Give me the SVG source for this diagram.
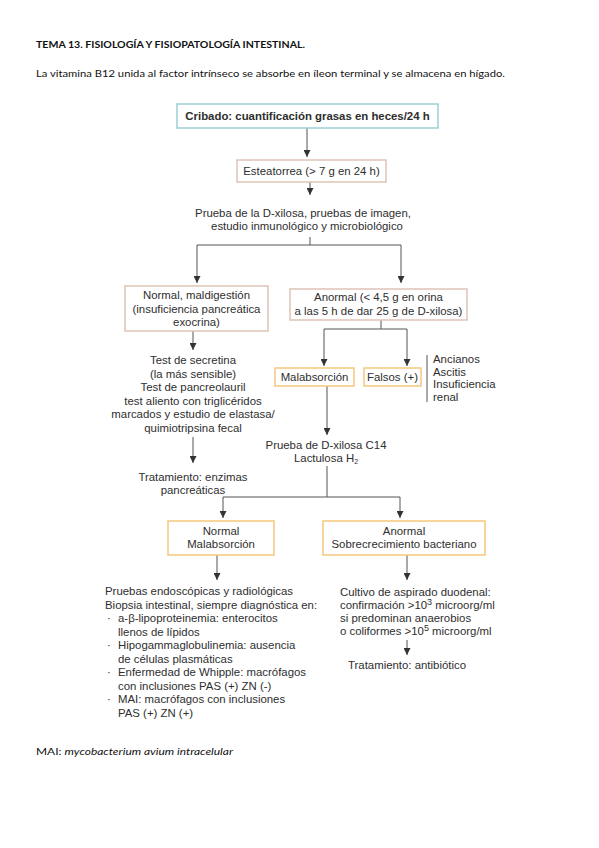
<svg xmlns="http://www.w3.org/2000/svg" width="599" height="848" viewBox="0 0 599 848">
<defs>
<marker id="ah" viewBox="0 0 10 10" refX="10" refY="5" markerWidth="7" markerHeight="7" markerUnits="userSpaceOnUse" orient="auto">
<path d="M0,0 L10,5 L0,10 z" fill="#333"/>
</marker>
</defs>
<style>
text{font-family:"Liberation Sans",Arial,sans-serif;fill:#2e2e2e;font-size:11.4px}
.c{text-anchor:middle}
.hd{font-family:Lato,"Liberation Sans",sans-serif;fill:#111;font-size:10px}
.b{font-weight:bold}
.teal{fill:#fff;stroke:#9ccfd6;stroke-width:1.5}
.pink{fill:#fff;stroke:#dfc3b8;stroke-width:1.5}
.org{fill:#fff;stroke:#f6c77c;stroke-width:1.5}
.ln{fill:none;stroke:#555;stroke-width:1}
.ar{fill:none;stroke:#555;stroke-width:1;marker-end:url(#ah)}
</style>
<rect width="599" height="848" fill="#fff"/>

<text class="hd b" x="36" y="48" textLength="269" lengthAdjust="spacingAndGlyphs">TEMA 13. FISIOLOGÍA Y FISIOPATOLOGÍA INTESTINAL.</text>
<text class="hd" x="36" y="77" textLength="469" lengthAdjust="spacingAndGlyphs">La vitamina B12 unida al factor intrínseco se absorbe en íleon terminal y se almacena en hígado.</text>

<g id="connectors">
<path class="ar" d="M307,128 V157"/>
<path class="ar" d="M310,182 V195"/>
<path class="ln" d="M310,237 V245 M197,245 H401"/>
<path class="ar" d="M197,245 V283"/>
<path class="ar" d="M401,245 V283"/>
<path class="ar" d="M193,331 V350"/>
<path class="ar" d="M193,437 V463"/>
<path class="ln" d="M381,320 V329 M324,329 H407"/>
<path class="ar" d="M324,329 V366"/>
<path class="ar" d="M407,329 V366"/>
<path class="ln" d="M427,355 V402" stroke="#888"/>
<path class="ar" d="M327,386 V435"/>
<path class="ln" d="M327,466 V497 M223,497 H400"/>
<path class="ar" d="M223,497 V518"/>
<path class="ar" d="M400,497 V518"/>
<path class="ar" d="M217,555 V580"/>
<path class="ar" d="M407,555 V580"/>
<path class="ar" d="M407,640 V655"/>
</g>

<g id="cribado">
<rect class="teal" x="177" y="104" width="261" height="24"/>
<text class="c b" x="307.5" y="120" font-size="12">Cribado: cuantificación grasas en heces/24 h</text>
</g>

<g id="esteatorrea">
<rect class="pink" x="237" y="160" width="149" height="22"/>
<text class="c" x="311.5" y="175">Esteatorrea (&gt; 7 g en 24 h)</text>
</g>

<g id="prueba-dxilosa">
<text class="c" x="303" y="217">Prueba de la D-xilosa, pruebas de imagen,</text>
<text class="c" x="307" y="230">estudio inmunológico y microbiológico</text>
</g>

<g id="normal-maldigestion">
<rect class="pink" x="125" y="286" width="143" height="45"/>
<text class="c" x="196.5" y="299">Normal, maldigestión</text>
<text class="c" x="196.5" y="312.5">(insuficiencia pancreática</text>
<text class="c" x="196.5" y="326">exocrina)</text>
</g>

<g id="anormal-dxilosa">
<rect class="pink" x="290" y="289" width="177" height="31"/>
<text class="c" x="378.5" y="301">Anormal (&lt; 4,5 g en orina</text>
<text class="c" x="378.5" y="315">a las 5 h de dar 25 g de D-xilosa)</text>
</g>

<g id="test-secretina">
<text class="c" x="193" y="364">Test de secretina</text>
<text class="c" x="193" y="377.5">(la más sensible)</text>
<text class="c" x="193" y="391">Test de pancreolauril</text>
<text class="c" x="193" y="404.5">test aliento con triglicéridos</text>
<text class="c" x="193" y="418">marcados y estudio de elastasa/</text>
<text class="c" x="193" y="431.5">quimiotripsina fecal</text>
</g>

<g id="tratamiento-enzimas">
<text class="c" x="193" y="481">Tratamiento: enzimas</text>
<text class="c" x="193" y="494">pancreáticas</text>
</g>

<g id="malabsorcion">
<rect class="org" x="275" y="368" width="79" height="18"/>
<text class="c" x="314.5" y="381">Malabsorción</text>
</g>

<g id="falsos">
<rect class="org" x="364" y="368" width="57" height="18"/>
<text class="c" x="392.5" y="381">Falsos (+)</text>
</g>

<g id="causas-falsos">
<text x="433" y="363">Ancianos</text>
<text x="433" y="375.5">Ascitis</text>
<text x="433" y="388">Insuficiencia</text>
<text x="433" y="400.5">renal</text>
</g>

<g id="prueba-c14">
<text class="c" x="326" y="449">Prueba de D-xilosa C14</text>
<text class="c" x="326" y="462">Lactulosa H<tspan font-size="7" dy="2">2</tspan></text>
</g>

<g id="normal-malabsorcion">
<rect class="org" x="168" y="521" width="106" height="34"/>
<text class="c" x="221" y="535">Normal</text>
<text class="c" x="221" y="548">Malabsorción</text>
</g>

<g id="anormal-sobrecrecimiento">
<rect class="org" x="323" y="521" width="162" height="34"/>
<text class="c" x="404" y="535">Anormal</text>
<text class="c" x="404" y="548">Sobrecrecimiento bacteriano</text>
</g>

<g id="pruebas-endoscopicas">
<text x="105" y="595">Pruebas endoscópicas y radiológicas</text>
<text x="105" y="608.5">Biopsia intestinal, siempre diagnóstica en:</text>
<text x="107" y="622">·</text><text x="118" y="622">a-β-lipoproteinemia: enterocitos</text>
<text x="118" y="635.5">llenos de lípidos</text>
<text x="107" y="649">·</text><text x="118" y="649">Hipogammaglobulinemia: ausencia</text>
<text x="118" y="662.5">de células plasmáticas</text>
<text x="107" y="676">·</text><text x="118" y="676">Enfermedad de Whipple: macrófagos</text>
<text x="118" y="689.5">con inclusiones PAS (+) ZN (-)</text>
<text x="107" y="703">·</text><text x="118" y="703">MAI: macrófagos con inclusiones</text>
<text x="118" y="716.5">PAS (+) ZN (+)</text>
</g>

<g id="cultivo">
<text x="340" y="596">Cultivo de aspirado duodenal:</text>
<text x="340" y="609">confirmación &gt;10<tspan font-size="9" dy="-4">3</tspan><tspan dy="4"> microorg/ml</tspan></text>
<text x="340" y="622">si predominan anaerobios</text>
<text x="340" y="635">o coliformes &gt;10<tspan font-size="9" dy="-4">5</tspan><tspan dy="4"> microorg/ml</tspan></text>
</g>

<g id="tratamiento-antibiotico">
<text class="c" x="407" y="669">Tratamiento: antibiótico</text>
</g>

<text class="hd" x="36" y="755" textLength="197" lengthAdjust="spacingAndGlyphs">MAI: <tspan font-style="italic">mycobacterium avium intracelular</tspan></text>
</svg>
